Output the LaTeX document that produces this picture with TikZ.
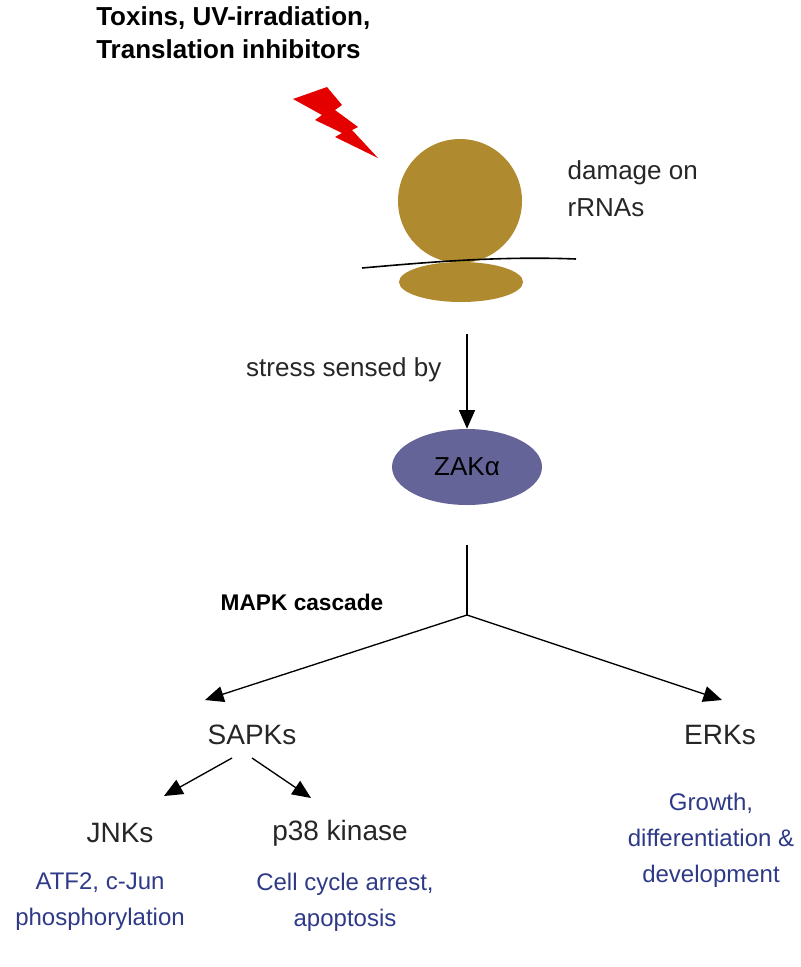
\documentclass[tikz,border=0pt]{standalone}
\usepackage{fontspec}
\setmainfont{Liberation Sans}
\usetikzlibrary{shapes.geometric,arrows.meta}
\begin{document}
\begin{tikzpicture}[x=0.75pt,y=-0.75pt,
  lbl/.style={font=\fontsize{19.5}{28}\selectfont,text=black!85},
  blu/.style={font=\fontsize{18}{27}\selectfont,text={rgb,255:red,46;green,58;blue,135},align=center},
  arr/.style={-{Triangle[length=14pt,width=12pt]},line width=1pt}]
\useasboundingbox (0,0) rectangle (800,967);
\definecolor{gold}{RGB}{176,138,46}
\definecolor{zak}{RGB}{100,100,152}
\node[font=\bfseries\fontsize{19.5}{25}\selectfont,align=left,anchor=north west,inner sep=0] (tox) at (96,6) {Toxins, UV-irradiation,\\Translation inhibitors};
\fill[red!90!black] (293,99)--(327,87)--(342,105)--(335,110)--(358,127)--(352,130)--(378,158)--(335,137)--(342,133)--(315,120)--(322,115)--cycle;
\node[circle,fill=gold,minimum size=124pt*0.75,inner sep=0] (rib) at (460,201) {};
\node[ellipse,fill=gold,minimum width=124pt*0.75,minimum height=40pt*0.75,inner sep=0] (sub) at (461,282) {};
\draw[line width=1.2pt] (362,268) .. controls (430,262) and (500,256) .. (576,259);
\node[lbl,align=left,anchor=west] (dmg) at (563,189) {damage on\\rRNAs};
\node[lbl,anchor=east] (sens) at (446,370) {stress sensed by};
\coordinate (a1) at (467,334);
\node[ellipse,fill=zak,minimum width=150pt*0.75,minimum height=76pt*0.75,font=\fontsize{19.5}{22}\selectfont] (zak) at (467,467) {ZAKα};
\draw[arr] (a1) -- (zak.north);
\node[font=\bfseries\fontsize{17}{20}\selectfont] (mapk) at (302,602) {MAPK cascade};
\coordinate (top) at (467,545);
\coordinate (br) at (467,615);
\node[lbl,font=\fontsize{21}{24}\selectfont] (sapk) at (252,735) {SAPKs};
\node[lbl,font=\fontsize{21}{24}\selectfont] (erk) at (720,735) {ERKs};
\draw[line width=1pt] (top) -- (br);
\draw[arr] (br) -- (205,700);
\draw[arr] (br) -- (722,700);
\node[lbl,font=\fontsize{21}{24}\selectfont] (jnk) at (120,833) {JNKs};
\node[lbl,font=\fontsize{21}{24}\selectfont] (p38) at (340,833) {p38 kinase};
\coordinate (s1) at (232,758);
\coordinate (s2) at (252,758);
\draw[arr] (s1) -- (164,796);
\draw[arr] (s2) -- (311,798);
\node[blu] (atf) at (100,902) {ATF2, c-Jun\\phosphorylation};
\node[blu] (cc) at (345,902) {Cell cycle arrest,\\apoptosis};
\node[blu] (gr) at (711,840) {Growth,\\differentiation \&\\development};
\end{tikzpicture}
\end{document}
